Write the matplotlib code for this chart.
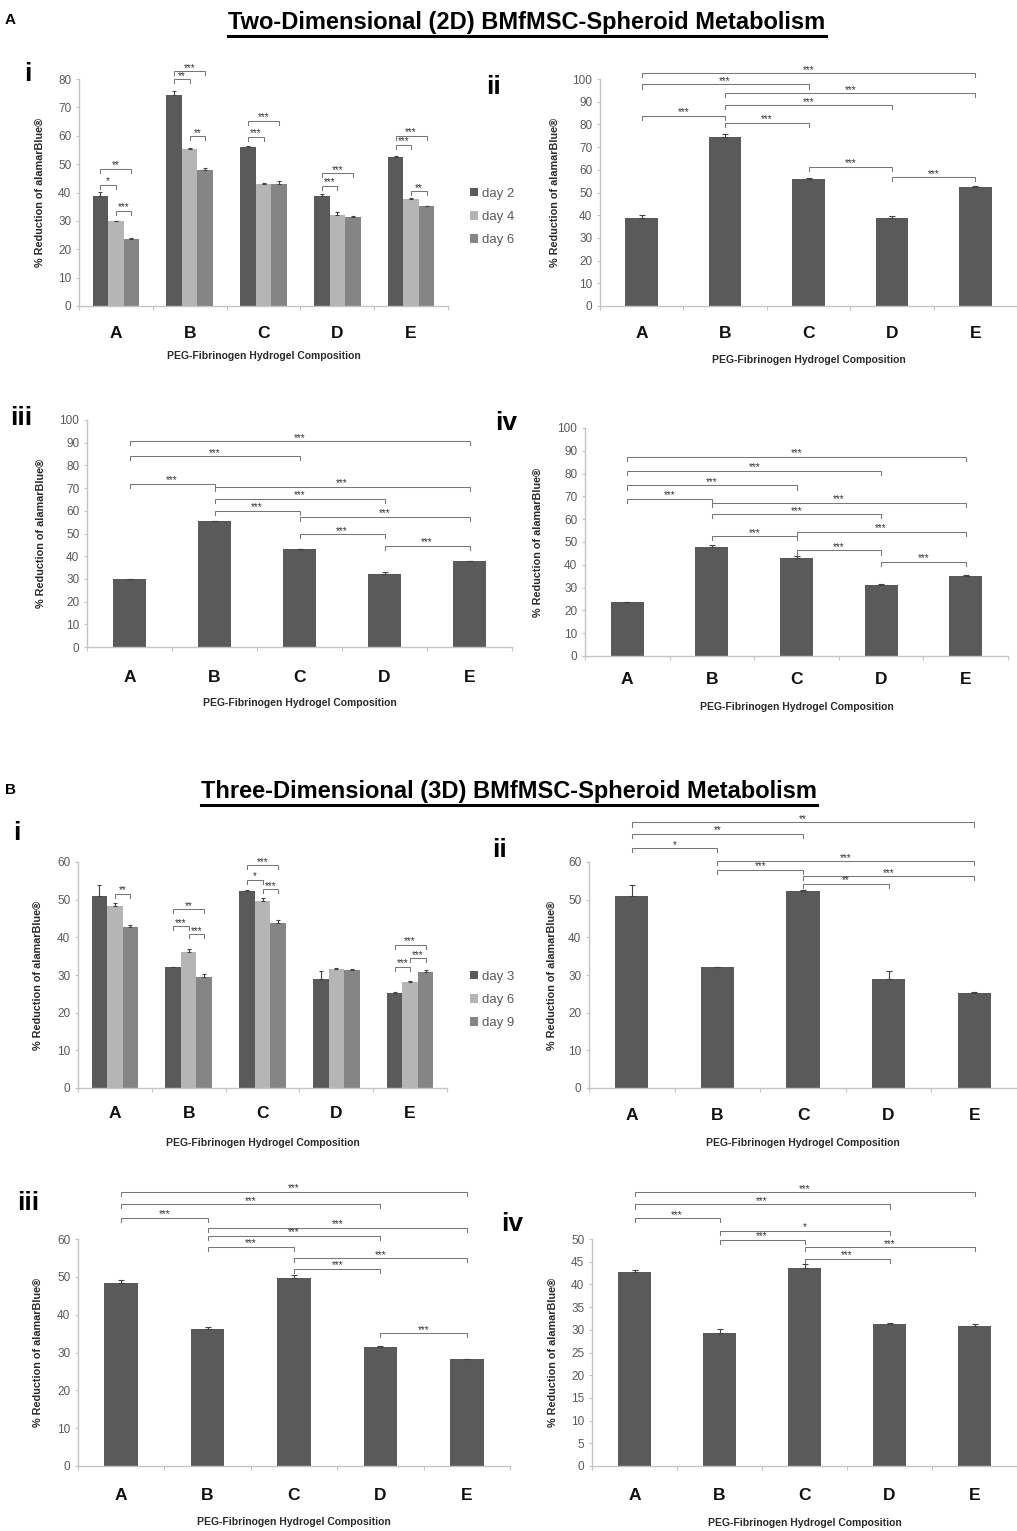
import numpy as np
import matplotlib
matplotlib.use('Agg')
import matplotlib.pyplot as plt
from matplotlib.patches import Patch
from matplotlib.lines import Line2D

plt.rcParams['font.family'] = ['Liberation Sans', 'DejaVu Sans']

# ---------------- data ----------------
categories = ['A', 'B', 'C', 'D', 'E']

days_2d = ['day 2', 'day 4', 'day 6']
mean_2d_day2 = [38.8, 74.3, 56.0, 38.8, 52.5]
err_2d_day2 = [1.5, 1.5, 0.5, 0.8, 0.3]
mean_2d_day4 = [29.8, 55.4, 43.0, 32.2, 37.7]
err_2d_day4 = [0.3, 0.3, 0.3, 0.8, 0.3]
mean_2d_day6 = [23.5, 48.0, 43.0, 31.3, 35.1]
err_2d_day6 = [0.3, 0.8, 1.0, 0.3, 0.3]

days_3d = ['day 3', 'day 6', 'day 9']
mean_3d_day3 = [50.9, 32.0, 52.2, 29.0, 25.2]
err_3d_day3 = [3.0, 0.2, 0.3, 2.0, 0.3]
mean_3d_day6 = [48.3, 36.1, 49.7, 31.5, 28.2]
err_3d_day6 = [0.8, 0.7, 0.8, 0.3, 0.2]
mean_3d_day9 = [42.8, 29.4, 43.7, 31.2, 30.9]
err_3d_day9 = [0.4, 0.8, 0.8, 0.3, 0.4]

# within-group comparisons: (category, bar1, bar2, height, stars)
sig_2d_i = [(0, 0, 1, 42.7, '*'), (0, 0, 2, 48.3, '**'), (0, 1, 2, 33.6, '***'),
            (1, 0, 1, 79.9, '**'), (1, 0, 2, 82.8, '***'), (1, 1, 2, 59.9, '**'),
            (2, 0, 1, 59.7, '***'), (2, 0, 2, 65.2, '***'),
            (3, 0, 1, 42.3, '***'), (3, 0, 2, 46.8, '***'),
            (4, 0, 1, 56.8, '***'), (4, 0, 2, 60.0, '***'), (4, 1, 2, 40.5, '**')]
sig_3d_i = [(0, 1, 2, 51.6, '**'),
            (1, 0, 2, 47.5, '**'), (1, 0, 1, 43.0, '***'), (1, 1, 2, 40.8, '***'),
            (2, 0, 2, 59.1, '***'), (2, 0, 1, 55.3, '*'), (2, 1, 2, 52.8, '***'),
            (4, 0, 2, 38.0, '***'), (4, 1, 2, 34.4, '***'), (4, 0, 1, 32.2, '***')]

# between-group comparisons: (cat1, cat2, height, stars)
sig_2d_ii = [(0, 4, 102.5, '***'), (0, 2, 97.6, '***'), (1, 4, 93.7, '***'),
             (1, 3, 88.5, '***'), (0, 1, 83.8, '***'), (1, 2, 80.8, '***'),
             (2, 3, 61.4, '***'), (3, 4, 56.7, '***')]
sig_2d_iii = [(0, 4, 90.7, '***'), (0, 2, 84.1, '***'), (0, 1, 71.8, '***'),
              (1, 4, 70.6, '***'), (1, 3, 65.3, '***'), (1, 2, 60.0, '***'),
              (2, 4, 57.4, '***'), (2, 3, 49.6, '***'), (3, 4, 44.6, '***')]
sig_2d_iv = [(0, 4, 87.5, '***'), (0, 3, 81.2, '***'), (0, 2, 74.8, '***'),
             (0, 1, 68.9, '***'), (1, 4, 67.2, '***'), (1, 3, 62.2, '***'),
             (2, 4, 54.4, '***'), (1, 2, 52.5, '***'), (2, 3, 46.3, '***'),
             (3, 4, 41.3, '***')]
sig_3d_ii = [(0, 4, 70.5, '**'), (0, 2, 67.5, '**'), (0, 1, 63.7, '*'),
             (1, 4, 60.2, '***'), (1, 2, 58.0, '***'), (2, 4, 56.2, '***'),
             (2, 3, 54.2, '**')]
sig_3d_iii = [(0, 4, 72.5, '***'), (0, 3, 69.2, '***'), (0, 1, 65.6, '***'),
              (1, 4, 63.0, '***'), (1, 3, 60.9, '***'), (1, 2, 58.0, '***'),
              (2, 4, 54.9, '***'), (2, 3, 52.2, '***'), (3, 4, 35.1, '***')]
sig_3d_iv = [(0, 4, 60.3, '***'), (0, 3, 57.6, '***'), (0, 1, 54.6, '***'),
             (1, 3, 51.8, '*'), (1, 2, 49.8, '***'), (2, 4, 48.2, '***'),
             (2, 3, 45.6, '***')]

# ---------------- style ----------------
W, H = 1017, 1531
DARK = '#5a5a5a'
GROUP_COLORS = ['#5a5a5a', '#b5b5b5', '#858585']
AXIS_GRAY = '#c4c4c4'
TICK_GRAY = '#5a5a5a'
BRACKET = '#777777'
YLABEL = '% Reduction of alamarBlue\u00ae'
XLABEL = 'PEG-Fibrinogen Hydrogel Composition'

fig = plt.figure(figsize=(W / 100, H / 100), dpi=100)


def make_axes(left, top, right, bottom):
    return fig.add_axes([left / W, 1 - bottom / H, (right - left) / W, (bottom - top) / H])


def style_axes(ax, box, ymax, step, xmax, ylab_off, cat_off, xlab_off):
    w_px = box[2] - box[0]
    h_px = box[3] - box[1]
    ax.set_xlim(-0.5, xmax)
    ax.set_ylim(0, ymax)
    ax.set_yticks(np.arange(0, ymax + step / 2, step))
    ax.set_xticks(np.arange(-0.5, 5, 1.0))
    ax.set_xticklabels([])
    for s in ['top', 'right']:
        ax.spines[s].set_visible(False)
    for s in ['left', 'bottom']:
        ax.spines[s].set_color(AXIS_GRAY)
        ax.spines[s].set_linewidth(1.0)
    ax.tick_params(axis='y', length=2.5, width=0.8, color=AXIS_GRAY,
                   labelsize=8.5, labelcolor=TICK_GRAY, pad=3)
    ax.tick_params(axis='x', length=3, width=0.8, color=AXIS_GRAY)
    tr = ax.get_xaxis_transform()
    for i, c in enumerate(categories):
        ax.text(i, -cat_off / h_px, c, transform=tr, ha='center', va='center',
                fontsize=12.5, fontweight='bold', color='#111111')
    ax.text(0.5, -xlab_off / h_px, XLABEL, transform=ax.transAxes, ha='center',
            va='center', fontsize=7.5, fontweight='bold', color='#2a2a2a')
    ax.text(-ylab_off / w_px, 0.5, YLABEL, transform=ax.transAxes, ha='center',
            va='center', rotation=90, fontsize=7.8, fontweight='bold', color='#2a2a2a')


def bracket(ax, x1, x2, y, label, ymax):
    d = 0.018 * ymax
    ax.plot([x1, x1, x2, x2], [y - d, y, y, y - d], color=BRACKET, lw=0.75,
            clip_on=False, solid_joinstyle='miter')
    ax.text((x1 + x2) / 2, y + 0.002 * ymax, label, ha='center', va='baseline',
            fontsize=7, color='#333333', clip_on=False)


def draw_single(box, means, errs, sigs, ymax, step, xmax, offs):
    ax = make_axes(*box)
    x = np.arange(len(categories))
    ax.bar(x, means, width=0.39, color=DARK, zorder=2)
    ax.errorbar(x, means, yerr=[np.zeros(len(errs)), errs], fmt='none',
                ecolor='#444444', elinewidth=0.8, capsize=2, capthick=0.8, zorder=3)
    for i, j, y, lab in sigs:
        bracket(ax, i, j, y, lab, ymax)
    style_axes(ax, box, ymax, step, xmax, *offs)
    return ax


def draw_grouped(box, series, errors, names, sigs, ymax, step, offs, legend_xy):
    ax = make_axes(*box)
    x = np.arange(len(categories))
    bw = 0.21
    for k, (m, e) in enumerate(zip(series, errors)):
        xs = x + (k - 1) * bw
        ax.bar(xs, m, width=bw, color=GROUP_COLORS[k], zorder=2)
        ax.errorbar(xs, m, yerr=[np.zeros(len(e)), e], fmt='none', ecolor='#444444',
                    elinewidth=0.8, capsize=1.5, capthick=0.8, zorder=3)
    for c, a, b, y, lab in sigs:
        bracket(ax, c + (a - 1) * bw, c + (b - 1) * bw, y, lab, ymax)
    style_axes(ax, box, ymax, step, 4.5, *offs)
    handles = [Patch(facecolor=GROUP_COLORS[k]) for k in range(3)]
    leg = ax.legend(handles, names, loc='center left',
                    bbox_to_anchor=(legend_xy[0] / W, 1 - legend_xy[1] / H),
                    bbox_transform=fig.transFigure, frameon=False, fontsize=9.5,
                    handlelength=0.6, handleheight=0.6, handletextpad=0.3,
                    labelspacing=0.85, borderpad=0, borderaxespad=0)
    for t in leg.get_texts():
        t.set_color(TICK_GRAY)
    return ax


# ---------------- 2D panels ----------------
draw_grouped((79, 79, 448, 306), [mean_2d_day2, mean_2d_day4, mean_2d_day6],
             [err_2d_day2, err_2d_day4, err_2d_day6], days_2d, sig_2d_i,
             80, 10, (39, 27, 50), (470, 217))
draw_single((600, 79, 1017, 306), mean_2d_day2, err_2d_day2, sig_2d_ii,
            100, 10, 4.4, (45, 27, 54))
draw_single((87, 420, 512, 647), mean_2d_day4, err_2d_day4, sig_2d_iii,
            100, 10, 4.5, (46, 31, 56))
draw_single((585, 428, 1008, 656), mean_2d_day6, err_2d_day6, sig_2d_iv,
            100, 10, 4.5, (47, 23, 51))

# ---------------- 3D panels ----------------
draw_grouped((78, 862, 447, 1088), [mean_3d_day3, mean_3d_day6, mean_3d_day9],
             [err_3d_day3, err_3d_day6, err_3d_day9], days_3d, sig_3d_i,
             60, 10, (40, 25, 55), (470, 1000))
draw_single((589, 862, 1017, 1088), mean_3d_day3, err_3d_day3, sig_3d_ii,
            60, 10, 4.49, (37, 28, 55))
draw_single((78, 1239, 510, 1466), mean_3d_day6, err_3d_day6, sig_3d_iii,
            60, 10, 4.5, (40, 29, 56))
draw_single((592, 1239, 1017, 1466), mean_3d_day9, err_3d_day9, sig_3d_iv,
            50, 5, 4.46, (39, 29, 57))

# ---------------- titles and panel letters ----------------
def ftext(x, y, s, **kw):
    return fig.text(x / W, 1 - y / H, s, **kw)


t1 = ftext(527, 22, 'Two-Dimensional (2D) BMfMSC-Spheroid Metabolism',
           ha='center', va='center', fontsize=17, fontweight='bold')
t2 = ftext(509, 791, 'Three-Dimensional (3D) BMfMSC-Spheroid Metabolism',
           ha='center', va='center', fontsize=17, fontweight='bold')
ftext(10, 20, 'A', ha='center', va='center', fontsize=11, fontweight='bold')
ftext(10, 790, 'B', ha='center', va='center', fontsize=11, fontweight='bold')

for x, y, s in [(28, 74, 'i'), (493, 87, 'ii'), (21, 418, 'iii'), (506, 423, 'iv'),
                (17, 833, 'i'), (500, 850, 'ii'), (28, 1203, 'iii'), (512, 1224, 'iv')]:
    ftext(x, y, s, ha='center', va='center', fontsize=19, fontweight='bold')

fig.canvas.draw()
renderer = fig.canvas.get_renderer()
for t, yline in [(t1, 36), (t2, 805)]:
    bb = t.get_window_extent(renderer)
    fig.add_artist(Line2D([bb.x0 / W, bb.x1 / W], [1 - yline / H, 1 - yline / H],
                          transform=fig.transFigure, color='black', lw=2.2))

fig.savefig('out.png', dpi=100)
